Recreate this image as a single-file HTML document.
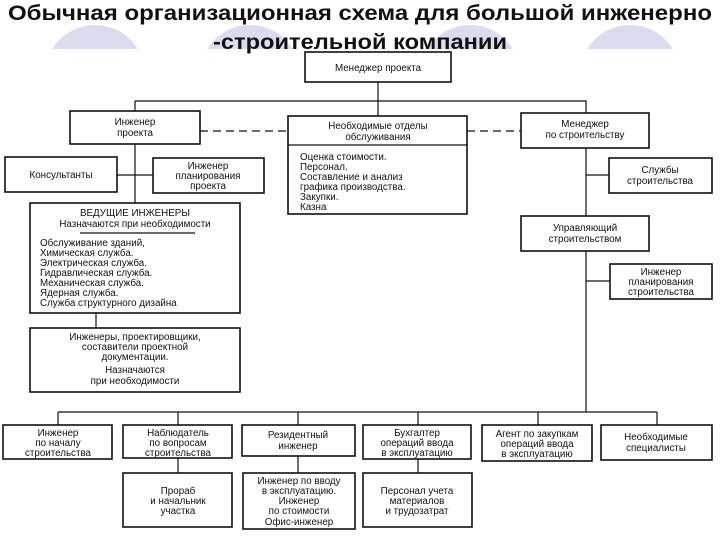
<!DOCTYPE html>
<html><head><meta charset="utf-8"><style>
html,body{margin:0;padding:0;background:#fff;}
svg{display:block;}
text{font-family:"Liberation Sans",sans-serif;fill:#111;}
.b{fill:#fff;stroke:#111;stroke-width:1.6;}
.l{stroke:#111;stroke-width:1.2;fill:none;}
.t{font-size:9.8px;text-anchor:middle;}
.s{font-size:9.8px;}
</style></head><body>
<svg width="720" height="540" viewBox="0 0 720 540" xmlns="http://www.w3.org/2000/svg">
<defs><clipPath id="c"><rect x="0" y="0" width="720" height="49"/></clipPath></defs>
<g clip-path="url(#c)" fill="#dcdcef">
<circle cx="95" cy="75" r="50"/><circle cx="250" cy="75" r="50"/><circle cx="470" cy="75" r="50"/><circle cx="630" cy="75" r="50"/>
</g>
<text x="8" y="20" textLength="704" lengthAdjust="spacingAndGlyphs" style="font-size:21px;font-weight:bold">Обычная организационная схема для большой инженерно</text>
<text x="213" y="49" textLength="294" lengthAdjust="spacingAndGlyphs" style="font-size:21px;font-weight:bold">-строительной компании</text>

<path class="l" d="M378 82V116 M135 101H586V113 M135 101V111 M135 144V203 M117 175H153 M586 148V412 M586 175H609 M586 281H610 M96 313V328 M58 412H657 M58 412V425 M178 412V425 M298 412V425 M418 412V425 M538 412V425 M657 412V425 M178 458V473 M298 456V473 M418 459V473"/>
<path class="l" d="M200 131H288 M467 131H521" stroke-dasharray="8,5"/>

<rect class="b" x="305" y="52" width="146" height="30"/>
<text class="t" x="378" y="71">Менеджер проекта</text>

<rect class="b" x="70" y="111" width="130" height="33"/>
<text class="t" x="135" y="125">Инженер</text><text class="t" x="135" y="136">проекта</text>

<rect class="b" x="288" y="116" width="179" height="98"/>
<line class="l" x1="288" y1="145" x2="467" y2="145"/>
<text class="t" x="378" y="129">Необходимые отделы</text><text class="t" x="378" y="140">обслуживания</text>
<text class="s" x="300" y="160">Оценка стоимости.</text>
<text class="s" x="300" y="170">Персонал.</text>
<text class="s" x="300" y="180">Составление и анализ</text>
<text class="s" x="300" y="190">графика производства.</text>
<text class="s" x="300" y="200">Закупки.</text>
<text class="s" x="300" y="210">Казна</text>

<rect class="b" x="521" y="113" width="128" height="35"/>
<text class="t" x="585" y="127">Менеджер</text><text class="t" x="585" y="138">по строительству</text>

<rect class="b" x="5" y="157" width="112" height="35"/>
<text class="t" x="61" y="178">Консультанты</text>

<rect class="b" x="153" y="158" width="111" height="35"/>
<text class="t" x="208" y="169">Инженер</text><text class="t" x="208" y="179">планирования</text><text class="t" x="208" y="189">проекта</text>

<rect class="b" x="609" y="158" width="103" height="35"/>
<text class="t" x="660" y="173">Службы</text><text class="t" x="660" y="184">строительства</text>

<rect class="b" x="30" y="203" width="210" height="110"/>
<text class="t" x="135" y="216">ВЕДУЩИЕ ИНЖЕНЕРЫ</text>
<text class="t" x="135" y="227">Назначаются при необходимости</text>
<line class="l" x1="80" y1="233" x2="195" y2="233"/>
<text class="s" x="40" y="246">Обслуживание зданий,</text>
<text class="s" x="40" y="256">Химическая служба.</text>
<text class="s" x="40" y="266">Электрическая служба.</text>
<text class="s" x="40" y="276">Гидравлическая служба.</text>
<text class="s" x="40" y="286">Механическая служба.</text>
<text class="s" x="40" y="296">Ядерная служба.</text>
<text class="s" x="40" y="306">Служба структурного дизайна</text>

<rect class="b" x="30" y="328" width="210" height="64"/>
<text class="t" x="135" y="340">Инженеры, проектировщики,</text>
<text class="t" x="135" y="350">составители проектной</text>
<text class="t" x="135" y="360">документации.</text>
<text class="t" x="135" y="373">Назначаются</text>
<text class="t" x="135" y="384">при необходимости</text>

<rect class="b" x="521" y="216" width="128" height="35"/>
<text class="t" x="585" y="231">Управляющий</text><text class="t" x="585" y="242">строительством</text>

<rect class="b" x="610" y="264" width="102" height="35"/>
<text class="t" x="661" y="275">Инженер</text><text class="t" x="661" y="285">планирования</text><text class="t" x="661" y="295">строительства</text>

<rect class="b" x="3" y="425" width="109" height="34"/>
<text class="t" x="58" y="436">Инженер</text><text class="t" x="58" y="446">по началу</text><text class="t" x="58" y="456">строительства</text>

<rect class="b" x="123" y="425" width="109" height="33"/>
<text class="t" x="178" y="436">Наблюдатель</text><text class="t" x="178" y="446">по вопросам</text><text class="t" x="178" y="456">строительства</text>

<rect class="b" x="242" y="425" width="113" height="31"/>
<text class="t" x="298" y="438">Резидентный</text><text class="t" x="298" y="449">инженер</text>

<rect class="b" x="363" y="425" width="108" height="34"/>
<text class="t" x="417" y="436">Бухгалтер</text><text class="t" x="417" y="446">операций ввода</text><text class="t" x="417" y="456">в эксплуатацию</text>

<rect class="b" x="482" y="425" width="110" height="36"/>
<text class="t" x="537" y="437">Агент по закупкам</text><text class="t" x="537" y="447">операций ввода</text><text class="t" x="537" y="457">в эксплуатацию</text>

<rect class="b" x="601" y="425" width="111" height="35"/>
<text class="t" x="656" y="440">Необходимые</text><text class="t" x="656" y="451">специалисты</text>

<rect class="b" x="123" y="473" width="109" height="54"/>
<text class="t" x="178" y="494">Прораб</text><text class="t" x="178" y="504">и начальник</text><text class="t" x="178" y="514">участка</text>

<rect class="b" x="243" y="473" width="112" height="56"/>
<text class="t" x="299" y="484">Инженер по вводу</text><text class="t" x="299" y="494">в эксплуатацию.</text><text class="t" x="299" y="504">Инженер</text><text class="t" x="299" y="514">по стоимости</text><text class="t" x="299" y="525">Офис-инженер</text>

<rect class="b" x="363" y="473" width="109" height="54"/>
<text class="t" x="417" y="494">Персонал учета</text><text class="t" x="417" y="504">материалов</text><text class="t" x="417" y="514">и трудозатрат</text>
</svg>
</body></html>
